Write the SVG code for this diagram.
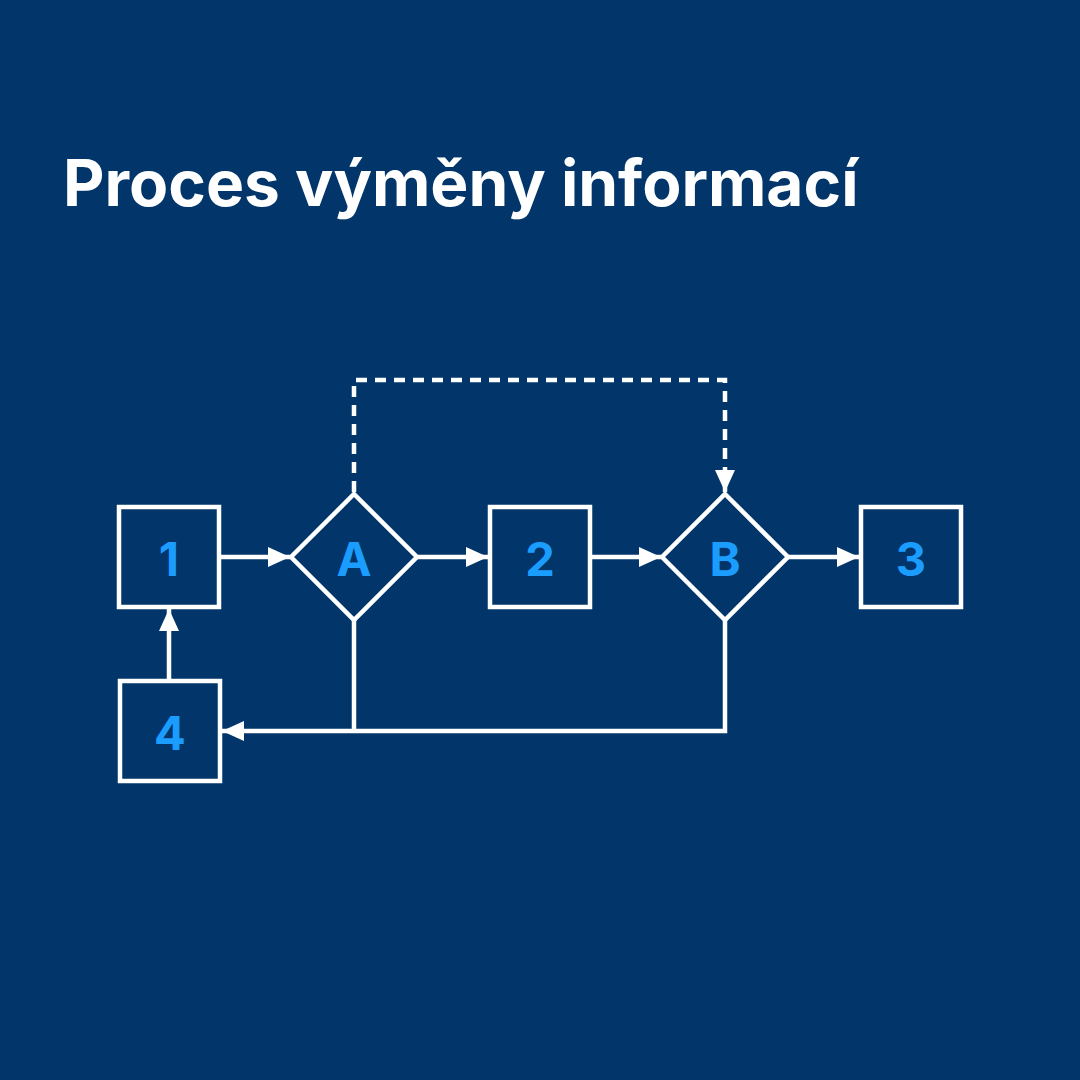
<svg xmlns="http://www.w3.org/2000/svg" width="1080" height="1080" viewBox="0 0 1080 1080">
<defs>
<style>
.box{fill:none;stroke:#ffffff;stroke-width:4.5}
.lbl{font-family:Inter,"Liberation Sans",sans-serif;font-weight:700;font-size:47px;fill:#1a9dff;text-anchor:middle;dominant-baseline:central}
.ln{fill:none;stroke:#ffffff;stroke-width:4.5}
.dash{stroke-dasharray:11 8}
.title{font-family:Inter,"Liberation Sans",sans-serif;font-weight:700;font-size:64px;fill:#ffffff}
</style>
<marker id="ah" viewBox="0 0 22 22" refX="22" refY="11" markerWidth="22" markerHeight="22" orient="auto" markerUnits="userSpaceOnUse">
<path d="M0,1 L22,11 L0,21 Z" fill="#ffffff"/>
</marker>
</defs>
<rect width="1080" height="1080" fill="#02366A"/>
<text class="title" x="63" y="206">Proces výměny informací</text>
<g id="connectors">
<line class="ln" x1="221" y1="557" x2="290" y2="557" marker-end="url(#ah)"/>
<line class="ln" x1="418" y1="557" x2="488" y2="557" marker-end="url(#ah)"/>
<line class="ln" x1="592" y1="557" x2="661" y2="557" marker-end="url(#ah)"/>
<line class="ln" x1="788" y1="557" x2="859" y2="557" marker-end="url(#ah)"/>
<line class="ln" x1="169" y1="679" x2="169" y2="609" marker-end="url(#ah)"/>
<path class="ln" d="M354,620 V731"/>
<path class="ln" d="M725,620 V731 H222" marker-end="url(#ah)"/>
<path class="ln dash" d="M354,492 V380 H725 V492" marker-end="url(#ah)"/>
</g>
<g id="n1"><rect class="box" x="119" y="507" width="100" height="100"/><text class="lbl" x="169" y="558">1</text></g>
<g id="nA"><path class="box" d="M354,494 L417,557 L354,620 L291,557 Z"/><text class="lbl" x="354" y="558">A</text></g>
<g id="n2"><rect class="box" x="490" y="507" width="100" height="100"/><text class="lbl" x="540" y="558">2</text></g>
<g id="nB"><path class="box" d="M725,494 L788,557 L725,620 L662,557 Z"/><text class="lbl" x="725" y="558">B</text></g>
<g id="n3"><rect class="box" x="861" y="507" width="100" height="100"/><text class="lbl" x="911" y="558">3</text></g>
<g id="n4"><rect class="box" x="120" y="681" width="100" height="100"/><text class="lbl" x="170" y="732">4</text></g>
</svg>
